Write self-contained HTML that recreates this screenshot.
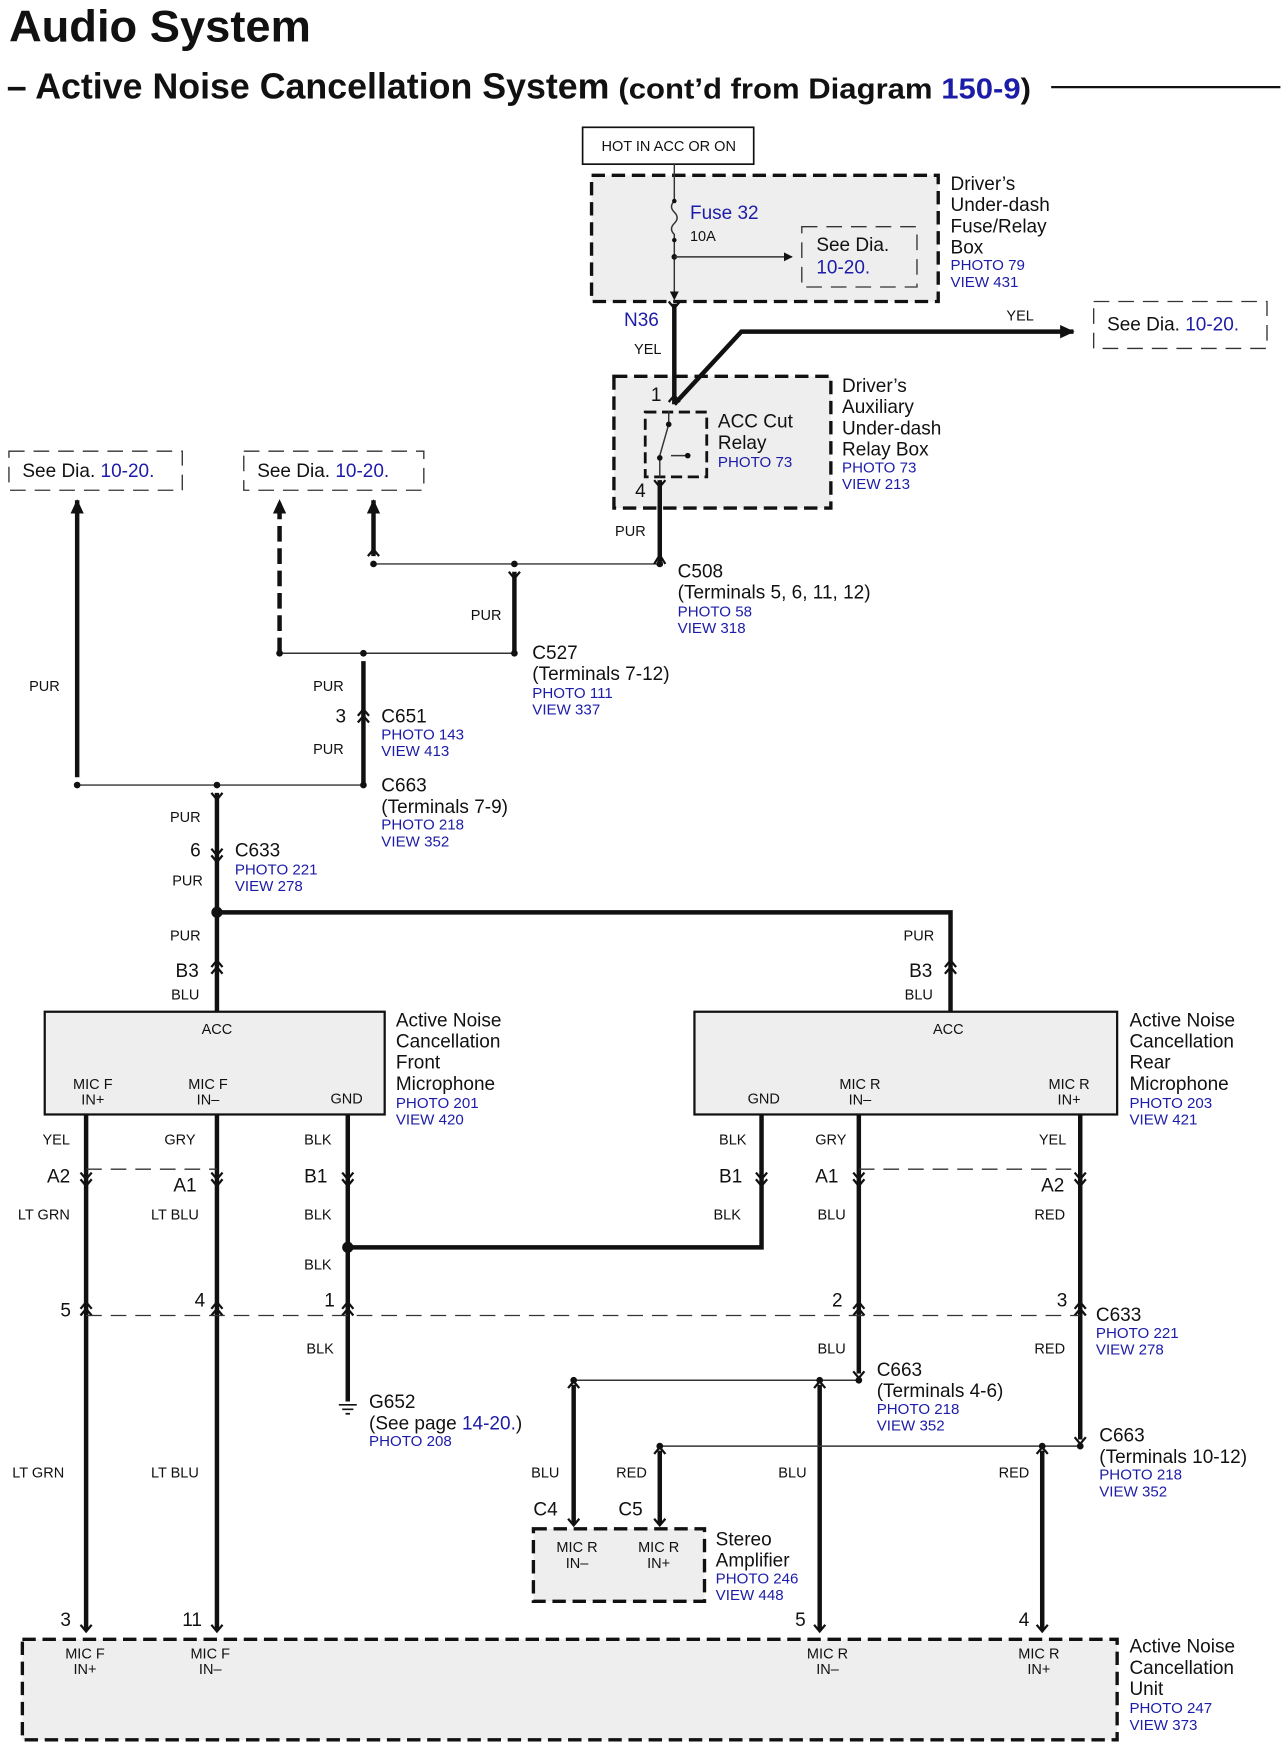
<!DOCTYPE html>
<html><head><meta charset="utf-8"><style>
html,body{margin:0;padding:0;background:#fff}
svg{display:block}
text{font-family:"Liberation Sans",sans-serif;fill:#111}
.b{fill:#1c1ca8}
.s{font-size:13px}
.m{font-size:17px}
.p{font-size:13.5px;fill:#1c1ca8}
.w{stroke:#111;stroke-width:4;fill:none}
.t{stroke:#333;stroke-width:1.3;fill:none}
.d{stroke:#111;stroke-width:3;fill:#eee;stroke-dasharray:12 6}
.dl{stroke:#333;stroke-width:1.2;fill:none;stroke-dasharray:14 8}
.c{stroke:#111;stroke-width:2;fill:none}
</style></head><body>
<svg width="1286" height="1751" viewBox="0 0 1150 1568" preserveAspectRatio="none" xmlns="http://www.w3.org/2000/svg">
<defs><marker id="a" markerWidth="8" markerHeight="8" refX="7" refY="4" orient="auto" markerUnits="userSpaceOnUse"><path d="M0,0 L8,4 L0,8z" fill="#111"/></marker>
<marker id="A" markerWidth="14" markerHeight="14" refX="12" refY="7" orient="auto" markerUnits="userSpaceOnUse"><path d="M0,1 L13,7 L0,13z" fill="#111"/></marker></defs>
<!-- Title -->
<text x="8" y="37" style="font-size:40px;font-weight:bold" textLength="270" lengthAdjust="spacingAndGlyphs">Audio System</text>
<text x="6" y="88" style="font-size:32px;font-weight:bold" textLength="539" lengthAdjust="spacingAndGlyphs">– Active Noise Cancellation System</text>
<text x="553" y="88" style="font-size:26px;font-weight:bold" textLength="369" lengthAdjust="spacingAndGlyphs">(cont’d from Diagram <tspan class="b">150-9</tspan>)</text>
<line x1="940" y1="78" x2="1145" y2="78" stroke="#111" stroke-width="2"/>

<!-- HOT box -->
<rect x="521" y="114" width="153" height="33" fill="#fff" stroke="#111" stroke-width="1.5"/>
<text x="598" y="135" class="s" text-anchor="middle">HOT IN ACC OR ON</text>
<!-- Fuse box -->
<rect x="529" y="157" width="310" height="113" class="d"/>
<path d="M603,147 V180 q-5,5 0,10 q5,5 0,10 q-5,5 0,10 V268" class="t" marker-end="url(#a)"/>
<circle cx="603" cy="180" r="2" fill="#111"/><circle cx="603" cy="215" r="2" fill="#111"/><circle cx="603" cy="230" r="2.5" fill="#111"/>
<line x1="603" y1="230" x2="708" y2="230" class="t" marker-end="url(#a)"/>
<rect x="717" y="203" width="103" height="54" fill="#eee" class="dl"/>
<text x="617" y="196" class="m b">Fuse 32</text>
<text x="617" y="216" class="s">10A</text>
<text x="730" y="225" class="m">See  Dia.</text><text x="730" y="245" class="m b">10-20.</text>
<text x="850" y="170" class="m">Driver’s</text><text x="850" y="189" class="m">Under-dash</text><text x="850" y="208" class="m">Fuse/Relay</text><text x="850" y="227" class="m">Box</text>
<text x="850" y="242" class="p">PHOTO 79</text><text x="850" y="257" class="p">VIEW 431</text>

<!-- Relay box (drawn before wires) -->
<rect x="549" y="337" width="194" height="118" class="d"/>

<text x="558" y="292" class="m b">N36</text>
<text x="567" y="317" class="s">YEL</text>
<line x1="603" y1="272" x2="603" y2="362" class="w"/>
<path d="M603,362 L663,297 L960,297" class="w" marker-end="url(#A)"/>
<text x="900" y="287" class="s">YEL</text>
<rect x="978" y="270" width="155" height="42" fill="#fff" class="dl"/>
<text x="990" y="296" class="m">See  Dia.  <tspan class="b">10-20.</tspan></text>

<text x="582" y="359" class="m">1</text><text x="568" y="445" class="m">4</text>
<rect x="577" y="369" width="55" height="58" fill="none" stroke="#111" stroke-width="2.5" stroke-dasharray="10 5"/>
<path d="M590,427 V412 M590,408 L598,380 M598,380 V368 M600,408 H615" class="t"/>
<circle cx="590" cy="410" r="2.5" fill="#111"/><circle cx="598" cy="380" r="2.5" fill="#111"/><circle cx="615" cy="408" r="2.5" fill="#111"/>
<text x="642" y="383" class="m">ACC Cut</text><text x="642" y="402" class="m">Relay</text><text x="642" y="418" class="p">PHOTO 73</text>
<text x="753" y="351" class="m">Driver’s</text><text x="753" y="370" class="m">Auxiliary</text><text x="753" y="389" class="m">Under-dash</text><text x="753" y="408" class="m">Relay Box</text>
<text x="753" y="423" class="p">PHOTO 73</text><text x="753" y="438" class="p">VIEW 213</text>

<line x1="590" y1="430" x2="590" y2="505" class="w"/>
<text x="550" y="480" class="s">PUR</text>
<line x1="334" y1="505" x2="590" y2="505" class="t"/>
<circle cx="460" cy="505" r="3" fill="#111"/><circle cx="590" cy="505" r="3" fill="#111"/><circle cx="334" cy="505" r="3" fill="#111"/>
<text x="606" y="517" class="m">C508</text><text x="606" y="536" class="m">(Terminals 5, 6, 11, 12)</text>
<text x="606" y="552" class="p">PHOTO 58</text><text x="606" y="567" class="p">VIEW 318</text>
<line x1="334" y1="498" x2="334" y2="448" class="w" marker-end="url(#A)"/>
<line x1="250" y1="585" x2="250" y2="448" class="w" stroke-dasharray="14 6" marker-end="url(#A)"/>
<line x1="460" y1="512" x2="460" y2="585" class="w"/>
<text x="421" y="555" class="s">PUR</text>
<line x1="250" y1="585" x2="460" y2="585" class="t"/>
<circle cx="250" cy="585" r="3" fill="#111"/><circle cx="325" cy="585" r="3" fill="#111"/><circle cx="460" cy="585" r="3" fill="#111"/>
<text x="476" y="590" class="m">C527</text><text x="476" y="609" class="m">(Terminals 7-12)</text>
<text x="476" y="625" class="p">PHOTO 111</text><text x="476" y="640" class="p">VIEW 337</text>
<line x1="325" y1="592" x2="325" y2="703" class="w"/>
<text x="280" y="619" class="s">PUR</text><text x="300" y="647" class="m">3</text><text x="280" y="675" class="s">PUR</text>
<text x="341" y="647" class="m">C651</text><text x="341" y="662" class="p">PHOTO 143</text><text x="341" y="677" class="p">VIEW 413</text>
<line x1="69" y1="703" x2="325" y2="703" class="t"/>
<circle cx="69" cy="703" r="3" fill="#111"/><circle cx="194" cy="703" r="3" fill="#111"/><circle cx="325" cy="703" r="3" fill="#111"/>
<text x="341" y="709" class="m">C663</text><text x="341" y="728" class="m">(Terminals 7-9)</text>
<text x="341" y="743" class="p">PHOTO 218</text><text x="341" y="758" class="p">VIEW 352</text>
<line x1="69" y1="696" x2="69" y2="448" class="w" marker-end="url(#A)"/>
<text x="26" y="619" class="s">PUR</text>
<rect x="8" y="404" width="155" height="35" fill="#fff" class="dl"/>
<text x="20" y="427" class="m">See  Dia.  <tspan class="b">10-20.</tspan></text>
<rect x="218" y="404" width="161" height="35" fill="#fff" class="dl"/>
<text x="230" y="427" class="m">See  Dia.  <tspan class="b">10-20.</tspan></text>

<line x1="194" y1="710" x2="194" y2="906" class="w"/>
<text x="152" y="736" class="s">PUR</text><text x="170" y="767" class="m">6</text><text x="154" y="793" class="s">PUR</text>
<text x="210" y="767" class="m">C633</text><text x="210" y="783" class="p">PHOTO 221</text><text x="210" y="798" class="p">VIEW 278</text>
<circle cx="194" cy="817" r="5" fill="#111"/>
<path d="M194,817 H850 V906" class="w"/>
<text x="152" y="842" class="s">PUR</text><text x="157" y="875" class="m">B3</text><text x="153" y="895" class="s">BLU</text>
<text x="808" y="842" class="s">PUR</text><text x="813" y="875" class="m">B3</text><text x="809" y="895" class="s">BLU</text>

<!-- connector chevrons -->
<g class="c">
<path d="M189,710 L194,716 L199,710 M189,766 L194,772 L199,766 M189,760 L194,766 L199,760 M189,866 L194,860 L199,866 M189,872 L194,866 L199,872 M845,866 L850,860 L855,866 M845,872 L850,866 L855,872"/>
<path d="M320,641 L325,635 L330,641 M320,647 L325,641 L330,647 M455,512 L460,518 L465,512 M329,498 L334,492 L339,498 M585,505 L590,497 L595,505 M598,360 L603,354 L608,360 M598,270 L603,276 L608,270 M585,430 L590,436 L595,430"/>
<path d="M72,1050 L77,1056 L82,1050 M72,1056 L77,1062 L82,1056 M189,1050 L194,1056 L199,1050 M189,1056 L194,1062 L199,1056 M306,1050 L311,1056 L316,1050 M306,1056 L311,1062 L316,1056 M676,1050 L681,1056 L686,1050 M676,1056 L681,1062 L686,1056 M763,1050 L768,1056 L773,1050 M763,1056 L768,1062 L773,1056 M961,1050 L966,1056 L971,1050 M961,1056 L966,1062 L971,1056"/>
<path d="M72,1172 L77,1166 L82,1172 M72,1178 L77,1172 L82,1178 M189,1172 L194,1166 L199,1172 M189,1178 L194,1172 L199,1178 M306,1172 L311,1166 L316,1172 M306,1178 L311,1172 L316,1178 M763,1172 L768,1166 L773,1172 M763,1178 L768,1172 L773,1178 M961,1172 L966,1166 L971,1172 M961,1178 L966,1172 L971,1178"/>
<path d="M72,1455 L77,1461 L82,1455 M189,1455 L194,1461 L199,1455 M728,1455 L733,1461 L738,1455 M927,1455 L932,1461 L937,1455 M508,1360 L513,1366 L518,1360 M585,1360 L590,1366 L595,1360 M508,1243 L513,1237 L518,1243 M585,1302 L590,1296 L595,1302 M728,1243 L733,1237 L738,1243 M927,1302 L932,1296 L937,1302 M763,1228 L768,1234 L773,1228 M961,1287 L966,1293 L971,1287"/>
</g>

<!-- Front mic -->
<rect x="40" y="906" width="304" height="92" fill="#eee" stroke="#111" stroke-width="2"/>
<text x="194" y="926" class="s" text-anchor="middle">ACC</text>
<text x="83" y="975" class="s" text-anchor="middle">MIC F</text><text x="83" y="989" class="s" text-anchor="middle">IN+</text>
<text x="186" y="975" class="s" text-anchor="middle">MIC F</text><text x="186" y="989" class="s" text-anchor="middle">IN–</text>
<text x="310" y="988" class="s" text-anchor="middle">GND</text>
<text x="354" y="919" class="m">Active Noise</text><text x="354" y="938" class="m">Cancellation</text><text x="354" y="957" class="m">Front</text><text x="354" y="976" class="m">Microphone</text>
<text x="354" y="992" class="p">PHOTO 201</text><text x="354" y="1007" class="p">VIEW 420</text>
<!-- Rear mic -->
<rect x="621" y="906" width="378" height="92" fill="#eee" stroke="#111" stroke-width="2"/>
<text x="848" y="926" class="s" text-anchor="middle">ACC</text>
<text x="683" y="988" class="s" text-anchor="middle">GND</text>
<text x="769" y="975" class="s" text-anchor="middle">MIC R</text><text x="769" y="989" class="s" text-anchor="middle">IN–</text>
<text x="956" y="975" class="s" text-anchor="middle">MIC R</text><text x="956" y="989" class="s" text-anchor="middle">IN+</text>
<text x="1010" y="919" class="m">Active Noise</text><text x="1010" y="938" class="m">Cancellation</text><text x="1010" y="957" class="m">Rear</text><text x="1010" y="976" class="m">Microphone</text>
<text x="1010" y="992" class="p">PHOTO 203</text><text x="1010" y="1007" class="p">VIEW 421</text>

<!-- Wires below -->
<line x1="77" y1="998" x2="77" y2="1460" class="w"/>
<line x1="194" y1="998" x2="194" y2="1460" class="w"/>
<line x1="311" y1="998" x2="311" y2="1255" class="w"/>
<path d="M311,1117 H681 V998" class="w"/>
<circle cx="311" cy="1117" r="5" fill="#111"/>
<line x1="768" y1="998" x2="768" y2="1230" class="w"/>
<line x1="966" y1="998" x2="966" y2="1289" class="w"/>
<line x1="733" y1="1240" x2="733" y2="1460" class="w"/>
<line x1="932" y1="1299" x2="932" y2="1460" class="w"/>
<line x1="513" y1="1240" x2="513" y2="1365" class="w"/>
<line x1="590" y1="1299" x2="590" y2="1365" class="w"/>
<line x1="513" y1="1236" x2="768" y2="1236" class="t"/>
<line x1="590" y1="1295" x2="966" y2="1295" class="t"/>
<circle cx="513" cy="1236" r="3" fill="#111"/><circle cx="733" cy="1236" r="3" fill="#111"/><circle cx="768" cy="1236" r="3" fill="#111"/>
<circle cx="590" cy="1295" r="3" fill="#111"/><circle cx="932" cy="1295" r="3" fill="#111"/><circle cx="966" cy="1295" r="3" fill="#111"/>
<line x1="77" y1="1047" x2="194" y2="1047" class="dl"/>
<line x1="768" y1="1047" x2="966" y2="1047" class="dl"/>
<line x1="77" y1="1178" x2="966" y2="1178" class="dl"/>
<!-- ground -->
<path d="M303,1258 H319 M306,1262 H316 M309,1266 H313" stroke="#111" stroke-width="1.5"/>

<text x="38" y="1025" class="s">YEL</text><text x="147" y="1025" class="s">GRY</text><text x="272" y="1025" class="s">BLK</text>
<text x="42" y="1059" class="m">A2</text><text x="155" y="1067" class="m">A1</text><text x="272" y="1059" class="m">B1</text>
<text x="16" y="1092" class="s">LT GRN</text><text x="135" y="1092" class="s">LT BLU</text><text x="272" y="1092" class="s">BLK</text>
<text x="272" y="1137" class="s">BLK</text>
<text x="54" y="1179" class="m">5</text><text x="174" y="1170" class="m">4</text><text x="290" y="1170" class="m">1</text>
<text x="274" y="1212" class="s">BLK</text>
<text x="330" y="1261" class="m">G652</text><text x="330" y="1280" class="m">(See page <tspan class="b">14-20.</tspan>)</text><text x="330" y="1295" class="p">PHOTO 208</text>
<text x="11" y="1323" class="s">LT GRN</text><text x="135" y="1323" class="s">LT BLU</text>
<text x="54" y="1456" class="m">3</text><text x="163" y="1456" class="m">11</text>

<text x="643" y="1025" class="s">BLK</text><text x="643" y="1059" class="m">B1</text><text x="638" y="1092" class="s">BLK</text>
<text x="729" y="1025" class="s">GRY</text><text x="729" y="1059" class="m">A1</text><text x="731" y="1092" class="s">BLU</text>
<text x="744" y="1170" class="m">2</text><text x="731" y="1212" class="s">BLU</text>
<text x="784" y="1232" class="m">C663</text><text x="784" y="1251" class="m">(Terminals 4-6)</text><text x="784" y="1266" class="p">PHOTO 218</text><text x="784" y="1281" class="p">VIEW 352</text>
<text x="929" y="1025" class="s">YEL</text><text x="931" y="1067" class="m">A2</text><text x="925" y="1092" class="s">RED</text>
<text x="945" y="1170" class="m">3</text>
<text x="980" y="1183" class="m">C633</text><text x="980" y="1198" class="p">PHOTO 221</text><text x="980" y="1213" class="p">VIEW 278</text>
<text x="925" y="1212" class="s">RED</text>
<text x="983" y="1291" class="m">C663</text><text x="983" y="1310" class="m">(Terminals 10-12)</text><text x="983" y="1325" class="p">PHOTO 218</text><text x="983" y="1340" class="p">VIEW 352</text>
<text x="696" y="1323" class="s">BLU</text><text x="893" y="1323" class="s">RED</text>
<text x="475" y="1323" class="s">BLU</text><text x="551" y="1323" class="s">RED</text>
<text x="477" y="1357" class="m">C4</text><text x="553" y="1357" class="m">C5</text>
<text x="711" y="1456" class="m">5</text><text x="911" y="1456" class="m">4</text>

<!-- Stereo amp -->
<rect x="477" y="1369" width="153" height="65" class="d"/>
<text x="516" y="1390" class="s" text-anchor="middle">MIC R</text><text x="516" y="1404" class="s" text-anchor="middle">IN–</text>
<text x="589" y="1390" class="s" text-anchor="middle">MIC R</text><text x="589" y="1404" class="s" text-anchor="middle">IN+</text>
<text x="640" y="1384" class="m">Stereo</text><text x="640" y="1403" class="m">Amplifier</text><text x="640" y="1418" class="p">PHOTO 246</text><text x="640" y="1433" class="p">VIEW 448</text>

<!-- Unit -->
<rect x="20" y="1468" width="979" height="90" class="d"/>
<text x="76" y="1485" class="s" text-anchor="middle">MIC F</text><text x="76" y="1499" class="s" text-anchor="middle">IN+</text>
<text x="188" y="1485" class="s" text-anchor="middle">MIC F</text><text x="188" y="1499" class="s" text-anchor="middle">IN–</text>
<text x="740" y="1485" class="s" text-anchor="middle">MIC R</text><text x="740" y="1499" class="s" text-anchor="middle">IN–</text>
<text x="929" y="1485" class="s" text-anchor="middle">MIC R</text><text x="929" y="1499" class="s" text-anchor="middle">IN+</text>
<text x="1010" y="1480" class="m">Active Noise</text><text x="1010" y="1499" class="m">Cancellation</text><text x="1010" y="1518" class="m">Unit</text>
<text x="1010" y="1534" class="p">PHOTO 247</text><text x="1010" y="1549" class="p">VIEW 373</text>
</svg>
</body></html>
